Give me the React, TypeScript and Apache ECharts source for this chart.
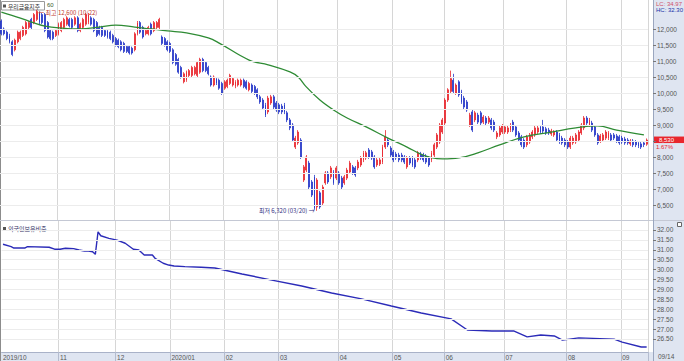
import React, { useEffect, useRef } from 'react';
import * as echarts from 'echarts';

// ---------- data ----------
const stockName = '우리금융지주';
const maLabel = '60';
const lowerTitle = '외국인보유비중';
const monthStarts = [0, 21, 42, 62, 82, 102, 124, 144, 163, 185, 208, 228];
const monthLabels = ['2019/10', '11', '12', '2020/01', '02', '03', '04', '05', '06', '07', '08', '09'];
const lastDateLabel = '09/14';
const topRightA = 'LC: 34.97';
const topRightB = 'HC: 32.30';
const changePct = '1.67%';

// [open, close, low, high] per trading day
const candles: number[][] = [
  [12250, 11850, 11800, 12300], [12000, 11850, 11800, 12050], [11900, 11700, 11650, 11950], [11800, 11600, 11550, 11850],
  [11600, 11200, 11150, 11650], [11350, 11650, 11300, 11700], [11600, 11900, 11550, 11950], [11700, 11900, 11650, 11950],
  [11800, 12050, 11750, 12100], [11850, 12200, 11800, 12250], [12050, 12200, 12000, 12250], [12300, 12050, 12000, 12350],
  [12200, 12450, 12150, 12500], [12300, 12550, 12250, 12600], [12500, 12200, 12150, 12550], [12450, 12200, 12150, 12500],
  [12450, 11950, 11900, 12500], [12200, 11750, 11700, 12250], [11950, 11700, 11650, 12000], [11900, 11700, 11650, 11950],
  [11800, 11950, 11750, 12000],
  [11850, 12150, 11800, 12200], [11950, 12200, 11900, 12250], [12050, 12300, 12000, 12350], [12150, 12350, 12100, 12400],
  [12300, 12100, 12050, 12350], [12300, 12050, 12000, 12350], [12150, 12350, 12100, 12400], [12350, 11950, 11900, 12400],
  [11950, 12150, 11900, 12200], [12050, 12300, 12000, 12350], [12150, 12450, 12100, 12500], [12200, 12450, 12150, 12500],
  [12350, 12150, 12100, 12400], [12300, 11950, 11900, 12350], [12200, 11800, 11750, 12250], [12050, 11850, 11800, 12100],
  [12050, 11800, 11750, 12100], [11950, 11800, 11750, 12000], [11950, 11750, 11700, 12000], [11900, 11700, 11650, 11950],
  [11800, 11600, 11550, 11850],
  [11700, 11500, 11450, 11750], [11650, 11450, 11400, 11700], [11600, 11350, 11300, 11650], [11550, 11300, 11250, 11600],
  [11450, 11300, 11250, 11500], [11450, 11250, 11200, 11500], [11400, 11250, 11200, 11450], [11350, 11850, 11300, 11900],
  [11850, 12200, 11800, 12250], [12200, 11900, 11850, 12250], [12050, 11750, 11700, 12100], [11850, 11950, 11800, 12000],
  [11850, 12050, 11800, 12100], [12150, 11850, 11800, 12200], [11950, 12200, 11900, 12250], [12050, 12200, 12000, 12250],
  [12050, 12300, 12000, 12350], [11750, 11550, 11500, 11800], [11700, 11500, 11450, 11750], [11600, 11350, 11300, 11650],
  [11550, 11300, 11250, 11600], [11350, 10950, 10900, 11400], [11200, 10900, 10850, 11250], [11050, 10650, 10600, 11100],
  [10800, 10500, 10450, 10850], [10350, 10600, 10300, 10650], [10400, 10650, 10350, 10700], [10550, 10700, 10500, 10750],
  [10550, 10800, 10500, 10850], [10600, 10800, 10550, 10850], [10550, 10950, 10500, 11000], [10650, 11050, 10600, 11100],
  [11050, 10700, 10650, 11100], [10950, 10700, 10650, 11000], [10800, 10600, 10550, 10850], [10500, 10250, 10200, 10550],
  [10250, 10500, 10200, 10550], [10450, 10300, 10250, 10500], [10400, 10150, 10100, 10450], [10300, 10000, 9940, 10350],
  [10150, 10350, 10100, 10400], [10200, 10400, 10150, 10450], [10300, 10550, 10250, 10600], [10250, 10450, 10200, 10500],
  [10200, 10350, 10150, 10400], [10250, 10400, 10200, 10450], [10250, 10400, 10200, 10450], [10400, 10200, 10150, 10450],
  [10350, 10150, 10100, 10400], [10100, 10300, 10050, 10350], [10250, 10050, 10000, 10300], [10200, 10000, 9940, 10250],
  [10100, 9880, 9810, 10150], [9880, 9720, 9660, 9940], [9780, 9530, 9470, 9840], [9630, 9310, 9250, 9690],
  [9410, 9840, 9340, 9910], [9690, 9880, 9630, 9940], [9880, 9560, 9500, 9940], [9690, 9470, 9410, 9750],
  [9630, 9410, 9340, 9690], [9590, 9410, 9340, 9660], [9630, 9410, 9340, 9690], [9380, 9160, 9090, 9440],
  [9160, 8910, 8840, 9220], [9000, 8530, 8470, 9060], [8310, 8590, 8250, 8660], [8440, 8780, 8380, 8840],
  [8530, 8000, 7940, 8590], [7280, 7690, 7220, 7750], [7590, 8000, 7530, 8060], [7810, 7060, 7000, 7880],
  [7220, 6810, 6750, 7280], [7380, 6410, 6350, 7440], [6440, 7280, 6320, 7340], [6880, 6440, 6380, 6940],
  [6560, 7060, 6500, 7130], [7190, 7500, 7130, 7560], [7500, 7220, 7160, 7560], [7380, 7660, 7310, 7720],
  [7530, 7190, 7130, 7590], [7340, 7660, 7280, 7720],
  [7500, 7190, 7130, 7560], [7340, 7060, 7000, 7410], [7190, 7380, 7130, 7440], [7340, 7590, 7280, 7660],
  [7530, 7810, 7470, 7880], [7690, 7500, 7440, 7750], [7660, 7440, 7380, 7720], [7660, 7840, 7590, 7910],
  [7750, 7970, 7690, 8030], [7910, 8130, 7840, 8190], [7970, 8130, 7910, 8190], [8220, 8000, 7940, 8280],
  [8160, 7970, 7910, 8220], [8000, 7690, 7630, 8060], [7750, 7910, 7690, 7970], [7780, 7910, 7720, 7970],
  [7840, 8310, 7780, 8380], [8310, 8630, 8250, 8840], [8530, 8380, 8310, 8590], [8280, 8060, 8000, 8340],
  [8160, 7910, 7840, 8220], [8090, 7970, 7910, 8160], [8060, 7910, 7840, 8130], [8060, 7910, 7840, 8130],
  [8000, 7840, 7780, 8060], [7690, 7970, 7630, 8030], [7970, 7810, 7750, 8030], [7970, 7750, 7690, 8030],
  [7910, 7690, 7630, 7970], [7910, 8130, 7840, 8190], [8090, 7970, 7910, 8160], [8060, 7910, 7840, 8130],
  [8030, 7840, 7780, 8090], [7970, 7750, 7690, 8030], [7910, 8130, 7840, 8190], [8060, 8380, 8000, 8440],
  [8310, 8690, 8250, 8750], [8470, 9000, 8410, 9060], [8780, 9160, 8720, 9220],
  [9060, 9780, 9000, 9840], [9780, 10100, 9720, 10150], [10050, 10450, 10000, 10700], [10400, 10050, 10000, 10600],
  [10000, 10250, 9940, 10300], [10350, 9940, 9880, 10400], [10050, 9720, 9660, 10100], [9840, 9560, 9500, 9910],
  [9720, 9470, 9410, 9780], [9000, 9310, 8940, 9380], [9410, 8840, 8780, 9470], [9160, 9380, 9090, 9440],
  [9310, 9090, 9030, 9380], [9380, 9060, 9000, 9440], [9090, 9250, 9030, 9310], [9220, 9060, 9000, 9280],
  [9090, 9220, 9030, 9280], [9160, 8910, 8840, 9220], [9090, 8840, 8780, 9160], [8630, 8750, 8560, 8810],
  [8690, 8910, 8630, 8970], [8780, 8970, 8720, 9030],
  [8780, 8940, 8720, 9000], [8780, 8910, 8720, 8970], [8840, 9000, 8780, 9060], [9090, 8840, 8780, 9160],
  [8940, 8690, 8630, 9000], [8750, 8530, 8470, 8810], [8630, 8380, 8310, 8690], [8530, 8310, 8250, 8590],
  [8380, 8630, 8310, 8690], [8470, 8690, 8410, 8750], [8630, 8780, 8560, 8840], [8690, 8910, 8630, 8970],
  [8780, 8910, 8720, 8970], [8940, 8780, 8720, 9000], [8940, 8810, 8750, 9160], [8880, 8750, 8690, 8940],
  [8840, 8750, 8690, 8910], [8720, 8810, 8660, 8880], [8690, 8780, 8630, 8840], [8780, 8530, 8470, 8840],
  [8690, 8470, 8410, 8750], [8590, 8440, 8380, 8660], [8530, 8380, 8310, 8590],
  [8470, 8310, 8250, 8530], [8310, 8590, 8250, 8660], [8440, 8590, 8380, 8660], [8470, 8690, 8410, 8750],
  [8530, 8780, 8470, 8840], [8750, 9000, 8690, 9060], [8910, 9220, 8840, 9280], [9220, 9060, 9000, 9280],
  [9000, 9160, 8940, 9220], [9060, 8840, 8780, 9130], [8940, 8690, 8630, 9000], [8690, 8440, 8380, 8750],
  [8500, 8660, 8440, 8720], [8530, 8690, 8470, 8750], [8590, 8780, 8530, 8840], [8590, 8750, 8530, 8810],
  [8690, 8530, 8470, 8750], [8690, 8590, 8530, 8750], [8660, 8500, 8440, 8720], [8630, 8440, 8380, 8690],
  [8590, 8470, 8410, 8660], [8560, 8440, 8380, 8630], [8530, 8440, 8380, 8590], [8410, 8500, 8350, 8560],
  [8500, 8380, 8310, 8560], [8470, 8380, 8310, 8530], [8440, 8340, 8280, 8500], [8410, 8310, 8250, 8470],
  [8440, 8390, 8310, 8500], [8400, 8530, 8350, 8580],
];

// moving average readings: [trading-day index, value]
const maPoints: number[][] = [
  [0, 12530], [7, 12340], [12, 12190], [16, 12090], [22, 12030], [29, 12000], [36, 12060], [42, 12120],
  [49, 12060], [55, 12000], [61, 11940], [68, 11880], [76, 11720], [80, 11560], [91, 11030], [98, 10880],
  [106, 10660], [109, 10500], [112, 10190], [117, 9780], [122, 9470], [127, 9220], [134, 8940], [142, 8590],
  [149, 8310], [154, 8090], [157, 8000], [162, 7940], [168, 7970], [175, 8130], [183, 8380], [192, 8630],
  [202, 8780], [211, 8910], [219, 8970], [226, 8840], [236, 8690],
];

// foreign ownership ratio readings: [trading-day index, %]
const foreignPoints: number[][] = [
  [0, 31.28], [3, 31.16], [4, 31.09], [8, 31.09], [9, 31.16], [17, 31.13], [19, 31.03], [21, 31.03],
  [23, 31.08], [26, 31.06], [28, 30.99], [30, 30.94], [31, 30.95], [33, 30.9], [34, 30.77], [35, 31.91],
  [36, 31.71], [39, 31.58], [42, 31.49], [45, 31.33], [48, 31.03], [50, 30.99], [52, 30.74], [55, 30.74],
  [56, 30.57], [59, 30.32], [61, 30.23], [63, 30.18], [67, 30.15], [73, 30.12], [78, 30.08], [88, 29.78],
  [99, 29.47], [110, 29.17], [121, 28.82], [132, 28.52], [143, 28.16], [154, 27.81], [165, 27.51],
  [171, 26.95], [180, 26.9], [188, 26.9], [193, 26.6], [198, 26.7], [203, 26.65], [206, 26.44],
  [212, 26.55], [225, 26.49], [228, 26.34], [235, 26.09], [237, 26.09],
];

const priceTicks = [6500, 7000, 7500, 8000, 8500, 9000, 9500, 10000, 10500, 11000, 11500, 12000];
const ratioTicks = [26.5, 27, 27.5, 28, 28.5, 29, 29.5, 30, 30.5, 31, 31.5, 32];
const highMark = { index: 13, value: 12600, text: '← 최고 12,600 (10/22)' };
const lowMark = { index: 116, value: 6320, text: '최저 6,320 (03/20) →' };

// ---------- styles ----------
const UP = '#e8262d';
const DOWN = '#2436c8';
const PANEL = '#dfe5f1';
const NUMFONT = 'Liberation Sans';
const KRFONT = 'Noto Sans CJK KR';

export default function App() {
  const ref = useRef<HTMLDivElement>(null);
  useEffect(() => {
    if (!ref.current) return;
    const chart = echarts.init(ref.current, undefined, { renderer: 'svg' });
    const cats = candles.map((_, i) => String(i));
    const isMonth = (i: number) => monthStarts.indexOf(i) >= 0;
    const last = candles[candles.length - 1];

    const baseGraphic: any[] = [
      { id: 'rp', type: 'rect', z: -10, shape: { x: 653, y: 0, width: 31, height: 361 }, style: { fill: PANEL } },
      { id: 'bs', type: 'rect', z: -10, shape: { x: 0, y: 352, width: 684, height: 9 }, style: { fill: PANEL } },
      { id: 'bl', type: 'line', shape: { x1: 0.5, y1: 0, x2: 0.5, y2: 361 }, style: { stroke: '#8c8c8c', lineWidth: 1 } },
      { id: 'sep', type: 'line', shape: { x1: 0, y1: 220.5, x2: 684, y2: 220.5 }, style: { stroke: '#c4c8d4', lineWidth: 1 } },
      { id: 'rb', type: 'line', shape: { x1: 653.5, y1: 0, x2: 653.5, y2: 361 }, style: { stroke: '#9aa6bf', lineWidth: 1 } },
      { id: 'tb', type: 'rect', shape: { x: 1.5, y: 1.5, width: 43, height: 8.5 }, style: { fill: '#fff', stroke: '#9a9a9a', lineWidth: 1 } },
      { id: 'tb1', type: 'rect', shape: { x: 3, y: 4.5, width: 3, height: 3 }, style: { fill: '#555' } },
      { id: 'tt', type: 'text', x: 8, y: 6, style: { text: stockName, fontSize: 5.8, fontFamily: KRFONT, fill: '#333', verticalAlign: 'middle' } },
      { id: 'tm', type: 'text', x: 47, y: 5, style: { text: maLabel, fontSize: 6, fontFamily: NUMFONT, fill: '#3a5a2a', verticalAlign: 'middle' } },
      { id: 'lt1', type: 'rect', shape: { x: 3, y: 227, width: 3, height: 3 }, style: { fill: '#555' } },
      { id: 'lt', type: 'text', x: 8, y: 228.5, style: { text: lowerTitle, fontSize: 6, fontFamily: KRFONT, fill: '#333366', verticalAlign: 'middle' } },
      { id: 'tra', type: 'text', x: 656, y: 3.5, style: { text: topRightA, fontSize: 6, fontFamily: NUMFONT, fill: '#d0506a', verticalAlign: 'middle' } },
      { id: 'trb', type: 'text', x: 656, y: 10, style: { text: topRightB, fontSize: 6, fontFamily: NUMFONT, fill: '#2233aa', verticalAlign: 'middle' } },
      { id: 'ic', type: 'rect', shape: { x: 677.5, y: 222.5, width: 4, height: 4 }, style: { fill: '#fff', stroke: '#666', lineWidth: 1 } },
      { id: 'ld', type: 'text', x: 658, y: 356.5, style: { text: lastDateLabel, fontSize: 6.5, fontFamily: NUMFONT, fill: '#555', verticalAlign: 'middle' } },
    ];

    const gridLineStyle = { color: '#ececec', width: 1, type: 'solid' };

    // price labels hidden under the current-price tag (as in the reference)
    const pxPerWon = 220 / (12906.25 - 6031.25);
    const priceLabels = priceTicks.filter((v) => Math.abs(v - last[1]) * pxPerWon > 8);

    chart.setOption({
      animation: false,
      backgroundColor: '#ffffff',
      grid: [
        { left: 0, top: 0, width: 648, height: 220 },
        { left: 0, top: 221, width: 648, height: 131 },
      ],
      xAxis: [
        {
          type: 'category', gridIndex: 0, data: cats, boundaryGap: true,
          axisLine: { show: false }, axisTick: { show: false }, axisLabel: { show: false },
          splitLine: { show: true, interval: (i: number) => isMonth(i) && i > 0, lineStyle: { color: '#d6d6d6', width: 1 } },
        },
        {
          type: 'category', gridIndex: 1, data: cats, boundaryGap: true,
          axisLine: { show: true, lineStyle: { color: '#a9b2c8' } },
          axisTick: { show: true, interval: (i: number) => isMonth(i) && i > 0, length: 9, lineStyle: { color: '#b4bccf' } },
          axisLabel: {
            show: true, interval: (i: number) => isMonth(i), align: 'left', margin: 2,
            fontSize: 6.5, fontFamily: NUMFONT, color: '#555',
            formatter: (_v: string, i: number) => monthLabels[monthStarts.indexOf(i)] || '',
          },
          splitLine: { show: true, interval: (i: number) => isMonth(i) && i > 0, lineStyle: { color: '#d6d6d6', width: 1 } },
        },
      ],
      yAxis: [
        {
          type: 'value', gridIndex: 0, position: 'right', offset: 5, min: 6031.25, max: 12906.25, scale: true,
          axisLine: { show: false },
          axisTick: { show: true, customValues: priceTicks, length: 3, lineStyle: { color: '#777' } },
          axisLabel: {
            customValues: priceLabels, margin: 4, fontSize: 6.5, fontFamily: NUMFONT, color: '#555',
            formatter: (v: number) => v.toLocaleString('en-US'),
          },
          splitLine: { show: false },
        },
        {
          type: 'value', gridIndex: 1, position: 'right', offset: 5, min: 25.8384, max: 32.4545, scale: true,
          axisLine: { show: false },
          axisTick: { show: true, customValues: ratioTicks, length: 3, lineStyle: { color: '#777' } },
          axisLabel: {
            customValues: ratioTicks, margin: 4, fontSize: 6.5, fontFamily: NUMFONT, color: '#555',
            formatter: (v: number) => v.toFixed(2),
          },
          splitLine: { show: false },
        },
      ],
      series: [
        {
          name: 'grid0', type: 'line', xAxisIndex: 0, yAxisIndex: 0, data: [], z: 1, silent: true,
          markLine: { silent: true, symbol: ['none', 'none'], label: { show: false }, lineStyle: gridLineStyle, data: priceTicks.map((v) => ({ yAxis: v })) },
        },
        {
          name: 'price', type: 'candlestick', xAxisIndex: 0, yAxisIndex: 0, data: candles, barWidth: 1.4,
          itemStyle: { color: UP, color0: DOWN, borderColor: UP, borderColor0: DOWN, borderWidth: 0.8 },
          markPoint: {
            silent: true, symbol: 'rect', symbolSize: 1, itemStyle: { color: 'rgba(0,0,0,0)' },
            data: [
              {
                coord: [cats[highMark.index], highMark.value],
                label: { show: true, position: 'right', distance: 1, offset: [0, 2.5], formatter: highMark.text, color: '#c0392b', fontSize: 6, fontFamily: KRFONT },
              },
              {
                coord: [cats[lowMark.index], lowMark.value],
                label: { show: true, position: 'left', distance: 2, formatter: lowMark.text, color: '#2d2d80', fontSize: 6, fontFamily: KRFONT },
              },
            ],
          },
        },
        {
          name: 'ma', type: 'line', xAxisIndex: 0, yAxisIndex: 0, data: maPoints, smooth: 0.4, symbol: 'none',
          lineStyle: { color: '#2e8b34', width: 1.3 }, z: 3,
        },
        {
          name: 'grid1', type: 'line', xAxisIndex: 1, yAxisIndex: 1, data: [], z: 1, silent: true,
          markLine: { silent: true, symbol: ['none', 'none'], label: { show: false }, lineStyle: gridLineStyle, data: ratioTicks.map((v) => ({ yAxis: v })) },
        },
        {
          name: 'foreign', type: 'line', xAxisIndex: 1, yAxisIndex: 1, data: foreignPoints, symbol: 'none',
          lineStyle: { color: '#2b2bb8', width: 1.4 },
        },
      ],
      graphic: baseGraphic,
    });

    const ty = chart.convertToPixel({ yAxisIndex: 0 }, last[1]) as number;
    chart.setOption({
      graphic: [
        ...baseGraphic,
        { id: 'pt', type: 'rect', shape: { x: 654, y: ty - 3.5, width: 30, height: 6.5 }, style: { fill: '#e8262d' } },
        { id: 'ptt', type: 'text', x: 659, y: ty - 0.2, style: { text: last[1].toLocaleString('en-US'), fontSize: 6, fontFamily: NUMFONT, fill: '#fff', verticalAlign: 'middle' } },
        { id: 'pct', type: 'text', x: 656, y: ty + 7, style: { text: changePct, fontSize: 6, fontFamily: NUMFONT, fill: '#e8262d', verticalAlign: 'middle' } },
      ],
    });

    return () => chart.dispose();
  }, []);

  return <div ref={ref} style={{ width: 684, height: 361, position: 'absolute', left: 0, top: 0 }} />;
}
